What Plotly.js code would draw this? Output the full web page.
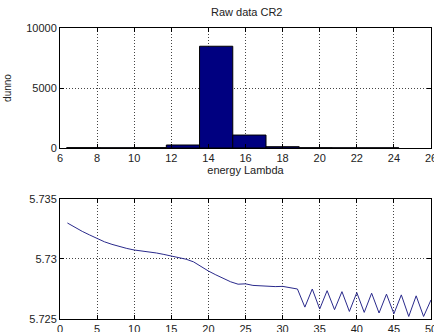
<!DOCTYPE html>
<html>
<head>
<meta charset="utf-8">
<script src="https://cdn.plot.ly/plotly-3.0.1.min.js"></script>
<style>html,body{margin:0;padding:0;background:#fff;}#chart{width:434px;height:332px;}</style>
</head>
<body>
<div id="chart"></div>
<script>
// Histogram (top)
const binCenters = [7.255, 9.046, 10.837, 12.628, 14.419, 16.21, 18.0, 19.79, 21.58, 23.37];
const binCounts = [30, 20, 30, 250, 8480, 1080, 110, 25, 15, 15];
const binWidth = 1.791;

// Line series (bottom)
const lineX = [];
for (let i = 1; i <= 50; i++) lineX.push(i);
const lineY = [
  5.73300, 5.73262, 5.73230, 5.73200, 5.73168, 5.73143, 5.73122, 5.73104, 5.73088, 5.73075,
  5.73068, 5.73060, 5.73050, 5.73038, 5.73026, 5.73013, 5.72998, 5.72976, 5.72935, 5.72900,
  5.72868, 5.72838, 5.72810, 5.72790, 5.72793, 5.72780, 5.72775, 5.72770, 5.72770, 5.72772,
  5.72758, 5.72750, 5.72599, 5.72750, 5.72583, 5.72736, 5.72578, 5.72728, 5.72563, 5.72720,
  5.72555, 5.72715, 5.72550, 5.72707, 5.72544, 5.72701, 5.72521, 5.72693, 5.72521, 5.72659
];

const topXTicks = [6, 8, 10, 12, 14, 16, 18, 20, 22, 24, 26];
const topYTicks = [0, 5000, 10000];
const topYTickText = ['0', '5000', '10000'];
const botXTicks = [0, 5, 10, 15, 20, 25, 30, 35, 40, 45, 50];
const botYTicks = [5.725, 5.73, 5.735];
const botYTickText = ['5.725', '5.73', '5.735'];

const font = {family: 'Liberation Sans, Arial, sans-serif', size: 11, color: '#222'};

const axisCommon = {
  showline: true, linecolor: '#000', linewidth: 1, mirror: 'ticks',
  ticks: 'inside', ticklen: 4, tickcolor: '#000',
  showgrid: true, gridcolor: '#444', gridwidth: 1, griddash: '1px,2px',
  zeroline: false, tickfont: font, ticklabeloverflow: 'allow'
};

const data = [
  {type: 'bar', x: binCenters, y: binCounts, width: binWidth,
   marker: {color: '#000080', line: {color: '#000', width: 1}},
   xaxis: 'x', yaxis: 'y', hoverinfo: 'none'},
  {type: 'scatter', mode: 'lines', x: lineX, y: lineY,
   line: {color: '#2a2a8c', width: 1},
   xaxis: 'x2', yaxis: 'y2', hoverinfo: 'none'}
];

const layout = {
  width: 434, height: 332,
  margin: {l: 60, r: 3, t: 28, b: 13},
  paper_bgcolor: '#fff', plot_bgcolor: '#fff',
  showlegend: false,
  font: font,
  title: {text: 'Raw data CR2', font: font, x: 0.5685, xanchor: 'center', y: 0.963, yanchor: 'middle'},
  xaxis: Object.assign({}, axisCommon, {
    domain: [0, 1], anchor: 'y', range: [6, 26], tickvals: topXTicks,
    title: {text: 'energy Lambda', font: font, standoff: 2}
  }),
  yaxis: Object.assign({}, axisCommon, {
    domain: [0.5876, 1], anchor: 'x', range: [0, 10000], tickvals: topYTicks, ticktext: topYTickText,
    title: {text: 'dunno', font: {family: font.family, size: 10, color: '#222'}, standoff: 12}
  }),
  xaxis2: Object.assign({}, axisCommon, {
    domain: [0, 1], anchor: 'y2', range: [0, 50], tickvals: botXTicks
  }),
  yaxis2: Object.assign({}, axisCommon, {
    domain: [0, 0.4124], anchor: 'x2', range: [5.725, 5.735],
    tickvals: botYTicks, ticktext: botYTickText
  })
};

Plotly.newPlot('chart', data, layout, {staticPlot: true, displayModeBar: false});
</script>
</body>
</html>
